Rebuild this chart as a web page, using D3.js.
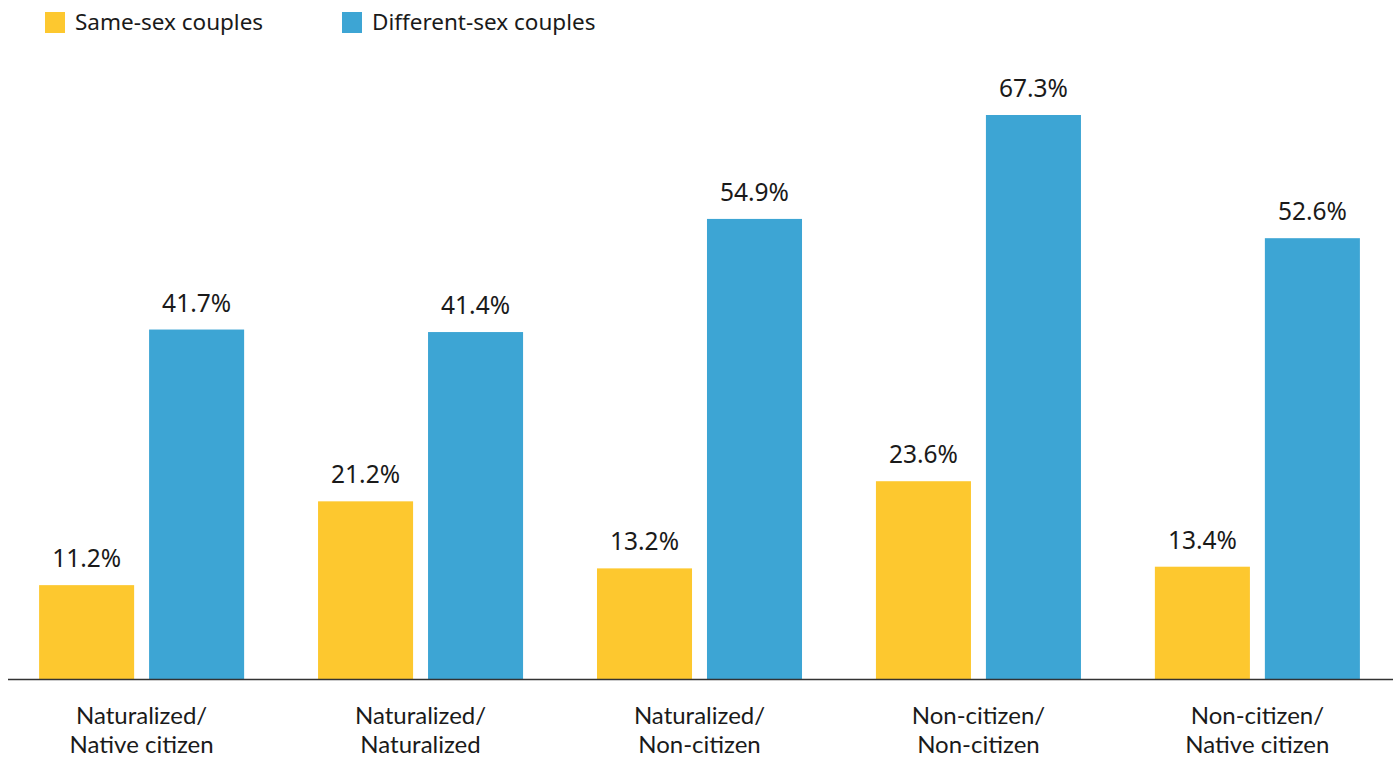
<!DOCTYPE html>
<html>
<head>
<meta charset="utf-8">
<script src="https://cdn.jsdelivr.net/npm/d3@7"></script>
<style>
  body { margin: 0; background: #fff; }
</style>
</head>
<body>
<script>
// chart data
var categories = [
    ["Naturalized/", "Native citizen"],
    ["Naturalized/", "Naturalized"],
    ["Naturalized/", "Non-citizen"],
    ["Non-citizen/", "Non-citizen"],
    ["Non-citizen/", "Native citizen"]
];
var seriesNames = ["Same-sex couples", "Different-sex couples"];
var sameSex = [11.2, 21.2, 13.2, 23.6, 13.4];
var differentSex = [41.7, 41.4, 54.9, 67.3, 52.6];
var colors = ["#FDC82F", "#3DA5D4"];

window.onload = function() {
    var w = 1399, h = 757;

    var svg = d3.select("body")
        .append("svg")
        .attr("width", w)
        .attr("height", h);

    // group keys
    var keys = categories.map(function(c) { return c.join(" "); });

    var x0 = d3.scaleBand()
        .domain(keys)
        .range([2, 1397])
        .paddingInner(0.265)
        .paddingOuter(0.133);

    var x1 = d3.scaleBand()
        .domain(seriesNames)
        .range([0, x0.bandwidth()])
        .paddingInner(0.136);

    var y = d3.scaleLinear()
        .domain([0, 67.3])
        .range([679, 115]);

    var rows = keys.map(function(k, i) {
        return { key: k, lines: categories[i], values: [sameSex[i], differentSex[i]] };
    });

    var groups = svg.selectAll("g.group")
        .data(rows)
        .enter()
        .append("g")
        .attr("class", "group")
        .attr("transform", function(d) { return "translate(" + x0(d.key) + ",0)"; });

    var bars = groups.selectAll("g.bar")
        .data(function(d) {
            return d.values.map(function(v, j) { return { s: seriesNames[j], v: v, j: j }; });
        })
        .enter()
        .append("g")
        .attr("class", "bar");

    bars.append("rect")
        .attr("x", function(d) { return x1(d.s); })
        .attr("y", function(d) { return y(d.v); })
        .attr("width", x1.bandwidth())
        .attr("height", function(d) { return y(0) - y(d.v); })
        .style("fill", function(d) { return colors[d.j]; });

    // value labels above bars
    bars.append("text")
        .attr("x", function(d) { return x1(d.s) + x1.bandwidth() / 2; })
        .attr("y", function(d) { return y(d.v) - 18; })
        .attr("text-anchor", "middle")
        .style("font-family", "'Noto Sans', 'Open Sans', sans-serif")
        .style("font-size", "24.5px")
        .style("fill", "#1a1a1a")
        .text(function(d) { return d.v.toFixed(1) + "%"; });

    // category labels (two lines)
    groups.append("text")
        .attr("x", x0.bandwidth() / 2)
        .attr("y", 724)
        .attr("text-anchor", "middle")
        .style("font-family", "Lato, sans-serif")
        .style("font-size", "24px")
        .style("fill", "#1a1a1a")
        .selectAll("tspan")
        .data(function(d) { return d.lines; })
        .enter()
        .append("tspan")
        .attr("x", x0.bandwidth() / 2)
        .attr("dy", function(d, i) { return i === 0 ? 0 : 29; })
        .text(function(d) { return d; });

    // baseline
    svg.append("line")
        .attr("x1", 8)
        .attr("x2", 1393)
        .attr("y1", y(0) + 0.5)
        .attr("y2", y(0) + 0.5)
        .style("stroke", "#333")
        .style("stroke-width", 1.5);

    // legend
    var legendX = [45, 342];
    var legend = svg.selectAll("g.legend")
        .data(seriesNames)
        .enter()
        .append("g")
        .attr("class", "legend")
        .attr("transform", function(d, i) { return "translate(" + legendX[i] + ",12)"; });

    legend.append("rect")
        .attr("width", 20)
        .attr("height", 21)
        .style("fill", function(d, i) { return colors[i]; });

    legend.append("text")
        .attr("x", 30)
        .attr("y", 18)
        .style("font-family", "'Noto Sans', 'Open Sans', sans-serif")
        .style("font-size", "22.5px")
        .style("fill", "#1a1a1a")
        .text(function(d) { return d; });
};
</script>
</body>
</html>
